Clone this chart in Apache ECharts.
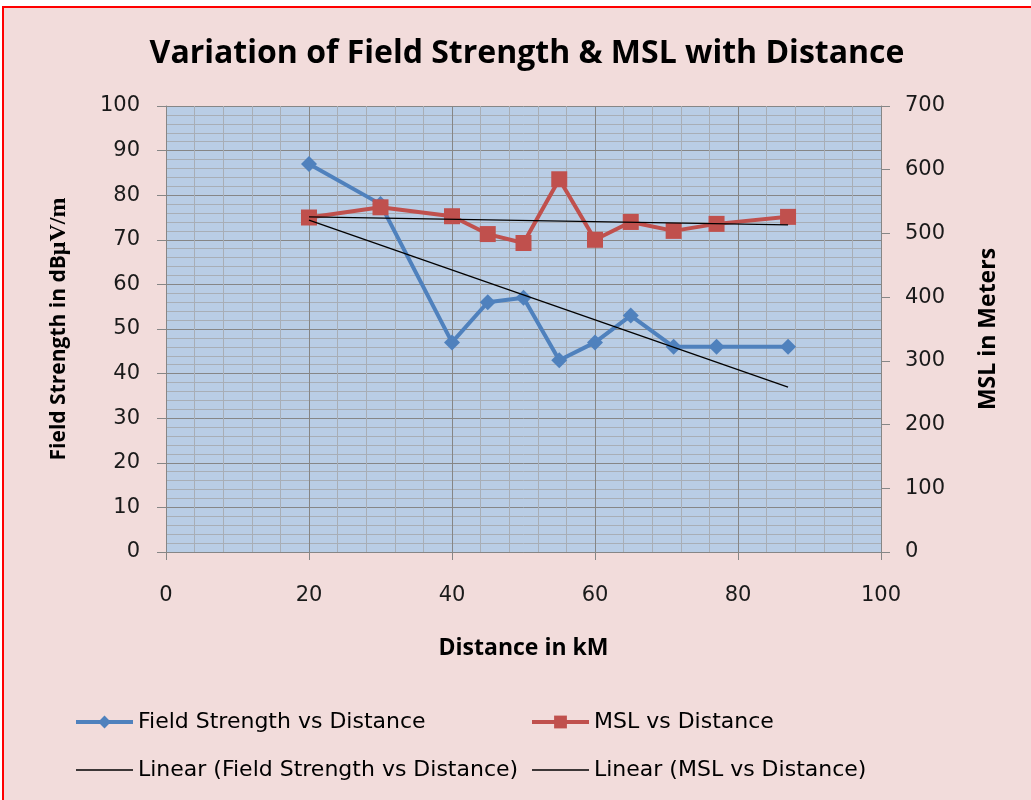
<!DOCTYPE html>
<html>
<head>
<meta charset="utf-8">
<script src="https://cdn.jsdelivr.net/npm/echarts@6/dist/echarts.min.js"></script>
<style>
html,body{margin:0;padding:0;background:#fff;}
#chart{width:1031px;height:800px;}
</style>
</head>
<body>
<div id="chart"></div>
<script>
// Data
var distanceKm = [20, 30, 40, 45, 50, 55, 60, 65, 71, 77, 87];
var fieldStrength = [87, 78, 47, 56, 57, 43, 47, 53, 46, 46, 46];
var mslMeters = [525, 541, 527, 499, 485, 585, 490, 518, 504, 515, 526];
var xTicks = [0, 20, 40, 60, 80, 100];
var leftTicks = [0, 10, 20, 30, 40, 50, 60, 70, 80, 90, 100];
var rightTicks = [0, 100, 200, 300, 400, 500, 600, 700];

function pairs(xs, ys) { return xs.map(function (x, i) { return [x, ys[i]]; }); }
function linearFit(xs, ys) {
  var n = xs.length, mx = 0, my = 0;
  for (var i = 0; i < n; i++) { mx += xs[i]; my += ys[i]; }
  mx /= n; my /= n;
  var sxy = 0, sxx = 0;
  for (var j = 0; j < n; j++) { sxy += (xs[j] - mx) * (ys[j] - my); sxx += (xs[j] - mx) * (xs[j] - mx); }
  var b = sxy / sxx, a = my - b * mx;
  var x0 = xs[0], x1 = xs[n - 1];
  return [[x0, a + b * x0], [x1, a + b * x1]];
}

var FONT = 'Open Sans';
var TICKFONT = 'DejaVu Sans';
var BLUE = '#4F81BD', RED = '#C0504D';
var legendText = { fontFamily: TICKFONT, fontSize: 22, color: '#000', lineHeight: 24 };
var chart = echarts.init(document.getElementById('chart'));
chart.setOption({
  backgroundColor: '#ffffff',
  animation: false,
  graphic: [{
    type: 'rect', z: -100, silent: true,
    shape: { x: 3, y: 7, width: 1050, height: 820 },
    style: { fill: '#F2DCDB', stroke: '#FF0000', lineWidth: 2 }
  }],
  title: {
    text: 'Variation of Field Strength & MSL with Distance',
    left: 522, textAlign: 'center', top: 33,
    textStyle: { fontFamily: FONT, fontSize: 32, fontWeight: 'bold', color: '#000' }
  },
  legend: [{
    orient: 'vertical', left: 69, top: 705, itemWidth: 57, itemHeight: 16, itemGap: 24,
    data: [
      { name: 'Field Strength vs Distance', lineStyle: { width: 4, color: BLUE } },
      { name: 'Linear (Field Strength vs Distance)', itemStyle: { opacity: 0 }, lineStyle: { width: 1.5, color: '#000' } }
    ],
    textStyle: legendText
  }, {
    orient: 'vertical', left: 525, top: 705, itemWidth: 57, itemHeight: 16, itemGap: 24,
    data: [
      { name: 'MSL vs Distance', lineStyle: { width: 4, color: RED } },
      { name: 'Linear (MSL vs Distance)', itemStyle: { opacity: 0 }, lineStyle: { width: 1.5, color: '#000' } }
    ],
    textStyle: legendText
  }],
  grid: {
    left: 166, top: 106, right: 150, bottom: 248,
    show: true, backgroundColor: '#B9CDE5', borderWidth: 0
  },
  xAxis: {
    type: 'value', min: xTicks[0], max: xTicks[xTicks.length - 1], interval: 20,
    name: 'Distance in kM', nameLocation: 'middle', nameGap: 85,
    nameTextStyle: { fontFamily: FONT, fontSize: 23, fontWeight: 'bold', color: '#000' },
    axisLine: { show: true, onZero: false, lineStyle: { color: '#868686', width: 1 } },
    axisTick: { show: true, length: 8, lineStyle: { color: '#868686' } },
    axisLabel: { fontFamily: TICKFONT, fontSize: 21, color: '#1a1a1a', margin: 33 },
    splitLine: { show: true, lineStyle: { color: '#868686', width: 1 } },
    minorTick: { show: false, splitNumber: 5 },
    minorSplitLine: { show: true, lineStyle: { color: '#A8AEB6', width: 1 } }
  },
  yAxis: [{
    type: 'value', min: leftTicks[0], max: leftTicks[leftTicks.length - 1], interval: 10,
    position: 'left',
    name: '{a|Field Strength in dB}{b|μV/m}', nameLocation: 'middle', nameGap: 95,
    nameTextStyle: {
      rich: {
        a: { fontFamily: FONT, fontSize: 21, fontWeight: 'bold', color: '#000' },
        b: { fontFamily: 'Liberation Serif', fontSize: 24, fontWeight: 'bold', color: '#000' }
      }
    },
    axisLine: { show: true, lineStyle: { color: '#868686', width: 1 } },
    axisTick: { show: true, length: 9, lineStyle: { color: '#868686' } },
    axisLabel: { fontFamily: TICKFONT, fontSize: 21, color: '#1a1a1a', margin: 26 },
    splitLine: { show: true, lineStyle: { color: '#868686', width: 1 } },
    minorTick: { show: false, splitNumber: 5 },
    minorSplitLine: { show: true, lineStyle: { color: '#A8AEB6', width: 1 } }
  }, {
    type: 'value', min: rightTicks[0], max: rightTicks[rightTicks.length - 1], interval: 100,
    position: 'right',
    name: 'MSL in Meters', nameLocation: 'middle', nameGap: 96,
    nameTextStyle: { fontFamily: FONT, fontSize: 23, fontWeight: 'bold', color: '#000' },
    axisLine: { show: true, lineStyle: { color: '#868686', width: 1 } },
    axisTick: { show: true, length: 9, lineStyle: { color: '#868686' } },
    axisLabel: { fontFamily: TICKFONT, fontSize: 21, color: '#1a1a1a', margin: 24 },
    splitLine: { show: false }
  }],
  series: [{
    name: 'Field Strength vs Distance', type: 'line', yAxisIndex: 0,
    data: pairs(distanceKm, fieldStrength),
    symbol: 'diamond', symbolSize: 16,
    lineStyle: { color: BLUE, width: 4 },
    itemStyle: { color: BLUE }, z: 3
  }, {
    name: 'MSL vs Distance', type: 'line', yAxisIndex: 1,
    data: pairs(distanceKm, mslMeters),
    symbol: 'rect', symbolSize: 16,
    lineStyle: { color: RED, width: 4 },
    itemStyle: { color: RED }, z: 3
  }, {
    name: 'Linear (Field Strength vs Distance)', type: 'line', yAxisIndex: 0,
    data: linearFit(distanceKm, fieldStrength),
    symbol: 'none', lineStyle: { color: '#000', width: 1.3 },
    itemStyle: { color: '#000' }, z: 4
  }, {
    name: 'Linear (MSL vs Distance)', type: 'line', yAxisIndex: 1,
    data: linearFit(distanceKm, mslMeters),
    symbol: 'none', lineStyle: { color: '#000', width: 1.3 },
    itemStyle: { color: '#000' }, z: 4
  }]
});
</script>
</body>
</html>
